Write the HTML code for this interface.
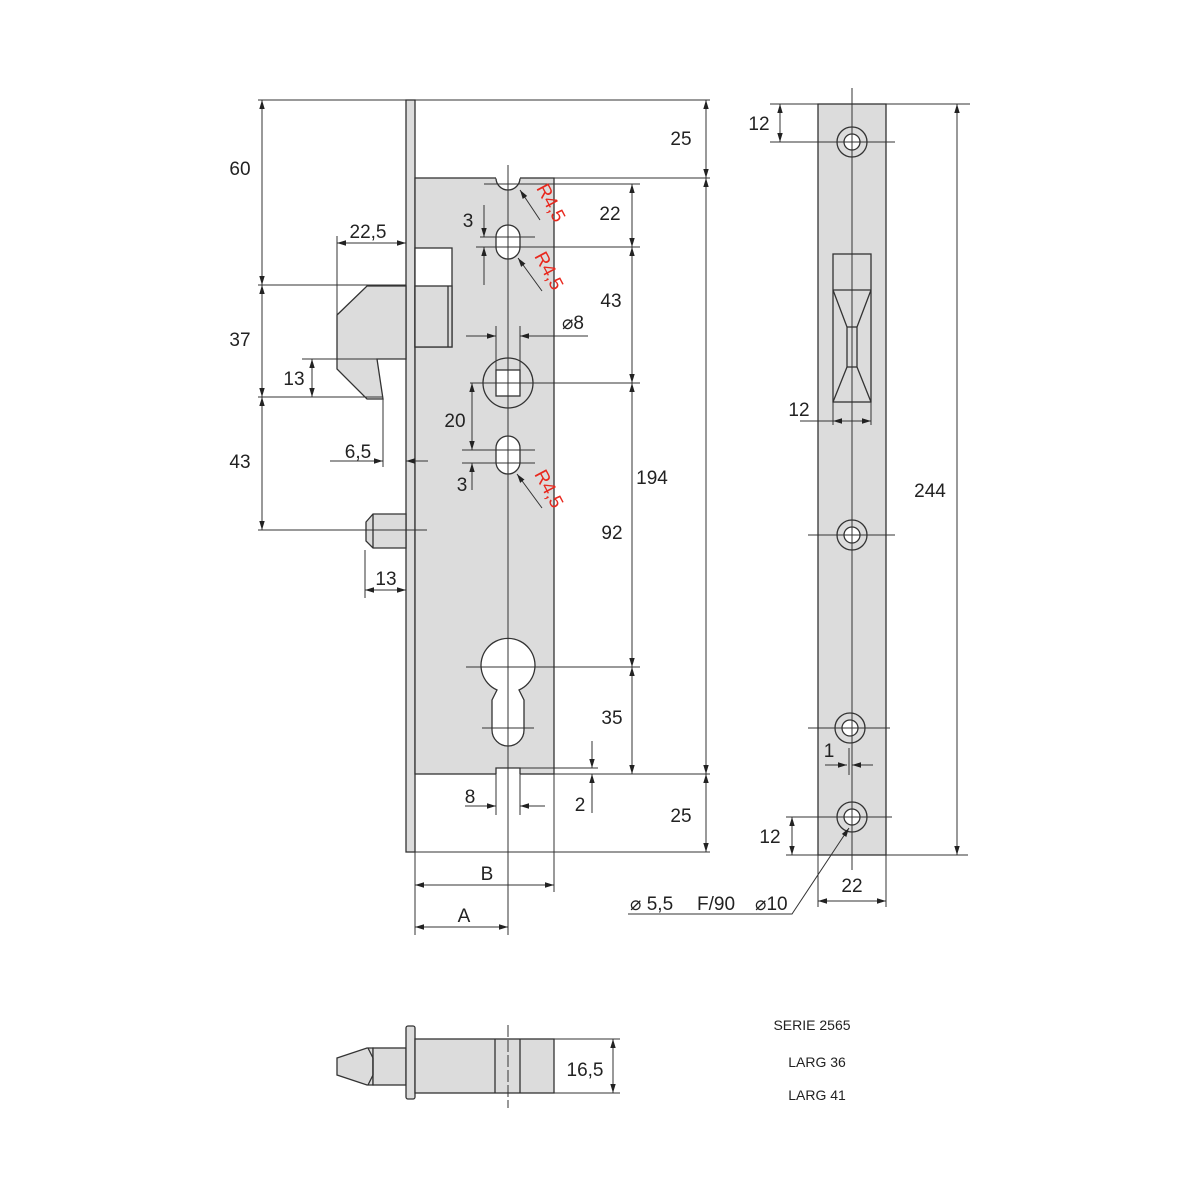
<!DOCTYPE html>
<html><head><meta charset="utf-8"><style>
html,body{margin:0;padding:0;background:#fff}
svg{display:block}
text{font-family:"Liberation Sans",Arial,sans-serif;fill:#222}
</style></head><body>
<svg width="1200" height="1200" viewBox="0 0 1200 1200" xmlns="http://www.w3.org/2000/svg">
<defs>
<marker id="a" viewBox="0 0 10 10" refX="10" refY="5" markerWidth="9" markerHeight="9" orient="auto-start-reverse" markerUnits="userSpaceOnUse"><path d="M0,2 L10,5 L0,8 z" fill="#222"/></marker>
</defs>
<g stroke="#333" stroke-width="1.3" fill="none">
<rect x="406" y="100" width="9" height="752" fill="#dcdcdc"/>
<rect x="415" y="178" width="139" height="596" fill="#dcdcdc"/>
<path d="M496,178 A12,12 0 0 0 520,178" fill="#fff"/>
<line x1="496" y1="177.5" x2="520" y2="177.5" stroke="#fff" stroke-width="2"/>
<rect x="496" y="768" width="24" height="7" fill="#fff" stroke="none"/>
<path d="M496,774 L496,768 L520,768 L520,774"/>
<rect x="415" y="248" width="37" height="99" fill="#fff"/>
<rect x="415" y="286" width="37" height="61" fill="#dcdcdc"/>
<line x1="448" y1="286" x2="448" y2="347"/>
<polygon points="337,315 367,286 406,286 406,359 377,359 383,399 367,399 337,369" fill="#dcdcdc"/>
<polygon points="366,522 373,514 406,514 406,548 373,548 366,541" fill="#dcdcdc"/>
<line x1="373" y1="514" x2="373" y2="548"/>
<rect x="496" y="225" width="24" height="34" rx="12" fill="#fff"/>
<rect x="496" y="436" width="24" height="38" rx="12" fill="#fff"/>
<circle cx="508" cy="383" r="25" fill="#dcdcdc"/>
<rect x="496" y="370" width="24" height="26" fill="#fff"/>
<path d="M497,690 A27,27 0 1 1 519,690 L524,700 L524,730 A16,16 0 0 1 492,730 L492,700 Z" fill="#fff"/>
<rect x="818" y="104" width="68" height="751" fill="#dcdcdc"/>
<rect x="833" y="254" width="38" height="148" fill="#dcdcdc"/>
<line x1="833" y1="290" x2="871" y2="290"/>
<polyline points="833,290 847,327 847,367 833,402"/>
<polyline points="871,290 857,327 857,367 871,402"/>
<line x1="847" y1="327" x2="857" y2="327"/>
<line x1="847" y1="367" x2="857" y2="367"/>
<circle cx="852" cy="142" r="15" fill="#dcdcdc"/><circle cx="852" cy="142" r="8" fill="#fff"/>
<circle cx="852" cy="535" r="15" fill="#dcdcdc"/><circle cx="852" cy="535" r="8" fill="#fff"/>
<circle cx="850" cy="728" r="15" fill="#dcdcdc"/><circle cx="850" cy="728" r="8" fill="#fff"/>
<circle cx="852" cy="817" r="15" fill="#dcdcdc"/><circle cx="852" cy="817" r="8" fill="#fff"/>
<polygon points="337,1058 367,1048 373,1048 373,1085 367,1085 337,1075" fill="#dcdcdc"/>
<rect x="373" y="1048" width="33" height="37" fill="#dcdcdc"/>
<path d="M368,1048 L373,1058 L373,1075 L368,1085"/>
<rect x="406" y="1026" width="9" height="73" rx="2" fill="#dcdcdc"/>
<rect x="415" y="1039" width="139" height="54" fill="#dcdcdc"/>
<line x1="495" y1="1039" x2="495" y2="1093"/>
<line x1="520" y1="1039" x2="520" y2="1093"/>
</g>
<g stroke="#333" stroke-width="1" fill="none">
<line x1="508" y1="1025" x2="508" y2="1108" stroke-dasharray="12,3"/>
<line x1="508" y1="165" x2="508" y2="935"/>
<line x1="852" y1="88" x2="852" y2="870"/>
<line x1="258" y1="100" x2="710" y2="100"/>
<line x1="258" y1="285" x2="406" y2="285"/>
<line x1="258" y1="397" x2="382" y2="397"/>
<line x1="258" y1="530" x2="427" y2="530"/>
<line x1="302" y1="359" x2="377" y2="359"/>
<line x1="337" y1="236" x2="337" y2="315"/>
<line x1="383" y1="399" x2="383" y2="467"/>
<line x1="365" y1="550" x2="365" y2="598"/>
<line x1="520" y1="178" x2="710" y2="178"/>
<line x1="484" y1="184" x2="640" y2="184"/>
<line x1="476" y1="247" x2="640" y2="247"/>
<line x1="480" y1="237" x2="535" y2="237"/>
<line x1="470" y1="383" x2="640" y2="383"/>
<line x1="462" y1="450" x2="535" y2="450"/>
<line x1="462" y1="463" x2="535" y2="463"/>
<line x1="466" y1="667" x2="640" y2="667"/>
<line x1="482" y1="728" x2="534" y2="728"/>
<line x1="554" y1="774" x2="710" y2="774"/>
<line x1="520" y1="768" x2="598" y2="768"/>
<line x1="406" y1="852" x2="710" y2="852"/>
<line x1="496" y1="326" x2="496" y2="383"/>
<line x1="520" y1="326" x2="520" y2="383"/>
<line x1="496" y1="774" x2="496" y2="815"/>
<line x1="520" y1="774" x2="520" y2="815"/>
<line x1="415" y1="852" x2="415" y2="935"/>
<line x1="554" y1="774" x2="554" y2="892"/>
<line x1="262" y1="100" x2="262" y2="285" marker-start="url(#a)" marker-end="url(#a)"/>
<line x1="262" y1="285" x2="262" y2="397" marker-start="url(#a)" marker-end="url(#a)"/>
<line x1="262" y1="397" x2="262" y2="530" marker-start="url(#a)" marker-end="url(#a)"/>
<line x1="312" y1="359" x2="312" y2="397" marker-start="url(#a)" marker-end="url(#a)"/>
<line x1="337" y1="243" x2="406" y2="243" marker-start="url(#a)" marker-end="url(#a)"/>
<line x1="330" y1="461" x2="383" y2="461" marker-end="url(#a)"/>
<line x1="428" y1="461" x2="406" y2="461" marker-end="url(#a)"/>
<line x1="365" y1="590" x2="406" y2="590" marker-start="url(#a)" marker-end="url(#a)"/>
<line x1="484" y1="205" x2="484" y2="237" marker-end="url(#a)"/>
<line x1="484" y1="285" x2="484" y2="247" marker-end="url(#a)"/>
<line x1="472" y1="383" x2="472" y2="450" marker-start="url(#a)" marker-end="url(#a)"/>
<line x1="472" y1="490" x2="472" y2="463" marker-end="url(#a)"/>
<line x1="466" y1="336" x2="496" y2="336" marker-end="url(#a)"/>
<line x1="588" y1="336" x2="520" y2="336" marker-end="url(#a)"/>
<line x1="465" y1="806" x2="496" y2="806" marker-end="url(#a)"/>
<line x1="545" y1="806" x2="520" y2="806" marker-end="url(#a)"/>
<line x1="592" y1="741" x2="592" y2="768" marker-end="url(#a)"/>
<line x1="592" y1="813" x2="592" y2="774" marker-end="url(#a)"/>
<line x1="632" y1="184" x2="632" y2="247" marker-start="url(#a)" marker-end="url(#a)"/>
<line x1="632" y1="247" x2="632" y2="383" marker-start="url(#a)" marker-end="url(#a)"/>
<line x1="632" y1="383" x2="632" y2="667" marker-start="url(#a)" marker-end="url(#a)"/>
<line x1="632" y1="667" x2="632" y2="774" marker-start="url(#a)" marker-end="url(#a)"/>
<line x1="706" y1="100" x2="706" y2="178" marker-start="url(#a)" marker-end="url(#a)"/>
<line x1="706" y1="178" x2="706" y2="774" marker-start="url(#a)" marker-end="url(#a)"/>
<line x1="706" y1="774" x2="706" y2="852" marker-start="url(#a)" marker-end="url(#a)"/>
<line x1="415" y1="885" x2="554" y2="885" marker-start="url(#a)" marker-end="url(#a)"/>
<line x1="415" y1="927" x2="508" y2="927" marker-start="url(#a)" marker-end="url(#a)"/>
<line x1="540" y1="220" x2="520" y2="190" marker-end="url(#a)"/>
<line x1="542" y1="291" x2="518" y2="258" marker-end="url(#a)"/>
<line x1="542" y1="508" x2="517" y2="474" marker-end="url(#a)"/>
<line x1="770" y1="104" x2="970" y2="104"/>
<line x1="770" y1="142" x2="895" y2="142"/>
<line x1="808" y1="535" x2="895" y2="535"/>
<line x1="808" y1="728" x2="890" y2="728"/>
<line x1="786" y1="817" x2="892" y2="817"/>
<line x1="786" y1="855" x2="968" y2="855"/>
<line x1="833" y1="402" x2="833" y2="425"/>
<line x1="871" y1="402" x2="871" y2="425"/>
<line x1="818" y1="855" x2="818" y2="907"/>
<line x1="886" y1="855" x2="886" y2="907"/>
<line x1="780" y1="104" x2="780" y2="142" marker-start="url(#a)" marker-end="url(#a)"/>
<line x1="792" y1="817" x2="792" y2="855" marker-start="url(#a)" marker-end="url(#a)"/>
<line x1="957" y1="104" x2="957" y2="855" marker-start="url(#a)" marker-end="url(#a)"/>
<line x1="800" y1="421" x2="871" y2="421"/>
<line x1="840" y1="421" x2="833" y2="421" marker-end="url(#a)"/>
<line x1="860" y1="421" x2="871" y2="421" marker-end="url(#a)"/>
<line x1="818" y1="901" x2="886" y2="901" marker-start="url(#a)" marker-end="url(#a)"/>
<line x1="825" y1="765" x2="847" y2="765" marker-end="url(#a)"/>
<line x1="873" y1="765" x2="852" y2="765" marker-end="url(#a)"/>
<line x1="849" y1="748" x2="849" y2="775"/>
<polyline points="628,914 792,914 849,828" marker-end="url(#a)"/>
<line x1="554" y1="1039" x2="620" y2="1039"/>
<line x1="554" y1="1093" x2="620" y2="1093"/>
<line x1="613" y1="1039" x2="613" y2="1093" marker-start="url(#a)" marker-end="url(#a)"/>
</g>
<g font-size="19" text-anchor="middle">
<text x="240" y="175">60</text>
<text x="240" y="346">37</text>
<text x="240" y="468">43</text>
<text x="294" y="385">13</text>
<text x="368" y="238">22,5</text>
<text x="358" y="458">6,5</text>
<text x="386" y="585">13</text>
<text x="468" y="227">3</text>
<text x="455" y="427">20</text>
<text x="462" y="491">3</text>
<text x="573" y="329">⌀8</text>
<text x="470" y="803">8</text>
<text x="580" y="811">2</text>
<text x="487" y="880">B</text>
<text x="464" y="922">A</text>
<text x="610" y="220">22</text>
<text x="611" y="307">43</text>
<text x="652" y="484">194</text>
<text x="612" y="539">92</text>
<text x="612" y="724">35</text>
<text x="681" y="145">25</text>
<text x="681" y="822">25</text>
<text x="759" y="130">12</text>
<text x="799" y="416">12</text>
<text x="829" y="757">1</text>
<text x="770" y="843">12</text>
<text x="930" y="497">244</text>
<text x="852" y="892">22</text>
<text x="585" y="1076">16,5</text>
</g>
<g font-size="19">
<text x="630" y="910">⌀ 5,5</text>
<text x="697" y="910">F/90</text>
<text x="755" y="910">⌀10</text>
</g>
<g font-size="19">
<text x="0" y="0" transform="translate(536,188) rotate(62)" style="fill:#e8281e">R4,5</text>
<text x="0" y="0" transform="translate(534,256) rotate(62)" style="fill:#e8281e">R4,5</text>
<text x="0" y="0" transform="translate(534,474) rotate(62)" style="fill:#e8281e">R4,5</text>
</g>
<g font-size="14" text-anchor="middle">
<text x="812" y="1030">SERIE 2565</text>
<text x="817" y="1067">LARG 36</text>
<text x="817" y="1100">LARG 41</text>
</g>
</svg>
</body></html>
